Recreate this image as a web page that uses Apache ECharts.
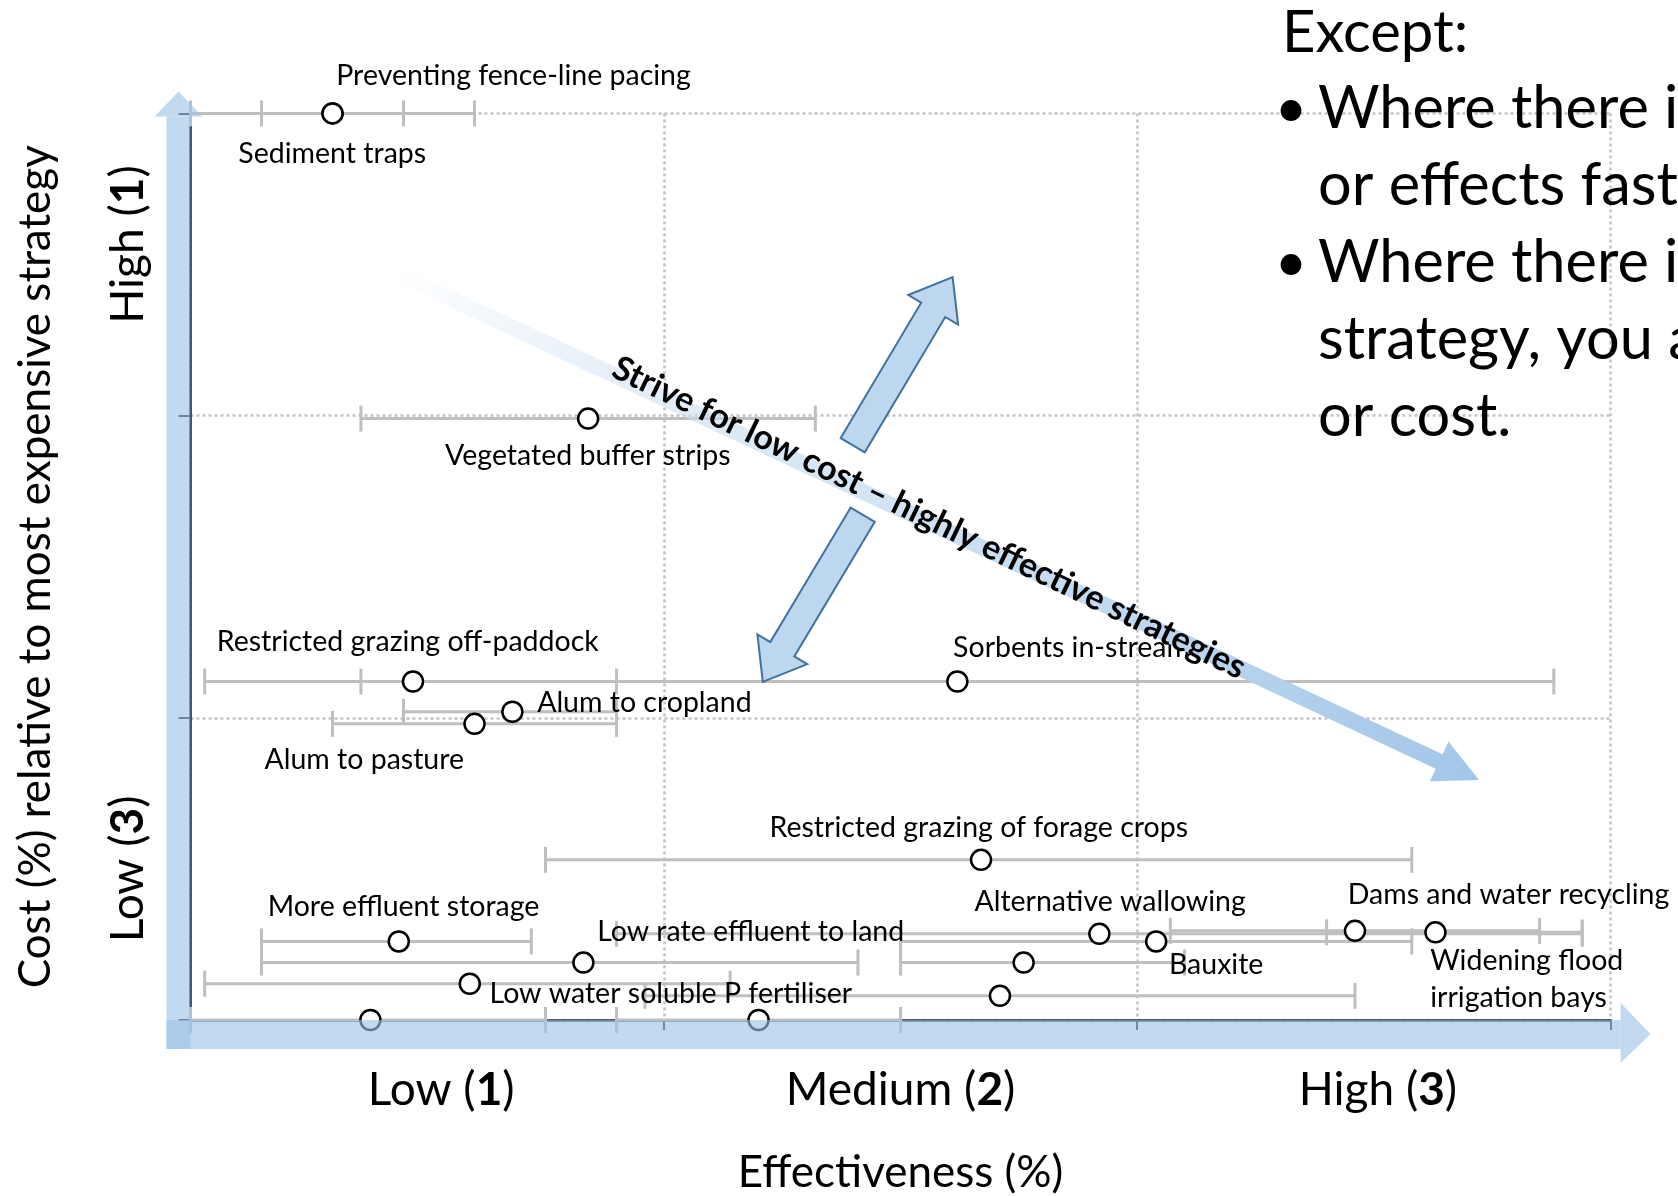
<!DOCTYPE html>
<html>
<head>
<meta charset="utf-8">
<script src="https://cdn.jsdelivr.net/npm/echarts@6/dist/echarts.min.js"></script>
<style>
  html, body { margin: 0; padding: 0; background: #fff; }
  #chart { width: 1678px; height: 1196px; }
</style>
</head>
<body>
<div id="chart"></div>
<script>
// ---------- data (effectiveness / cost in band units: 1 band = 1) ----------
var strategyNames = [
    'Preventing fence-line pacing', 'Sediment traps', 'Vegetated buffer strips',
    'Restricted grazing off-paddock', 'Sorbents in-stream', 'Alum to cropland', 'Alum to pasture',
    'Restricted grazing of forage crops', 'More effluent storage', 'Low rate effluent to land', '',
    'Low water soluble P fertiliser', '', '', '',
    'Alternative wallowing', 'Bauxite', 'Dams and water recycling', 'Widening flood\nirrigation bays'
];
var effectiveness    = [0.30, 0.30, 0.84, 0.47, 1.62, 0.68, 0.60, 1.67, 0.44, 0.83, 1.76, 0.59, 1.71, 0.38, 1.20, 1.92, 2.04, 2.46, 2.63];
var effectivenessMin = [0.00, 0.15, 0.36, 0.03, 0.36, 0.45, 0.30, 0.75, 0.15, 0.15, 1.50, 0.03, 0.96, 0.00, 0.90, 0.90, 1.50, 2.07, 2.40];
var effectivenessMax = [0.60, 0.45, 1.32, 0.90, 2.88, 0.90, 0.90, 2.58, 0.72, 1.41, 2.10, 1.14, 2.46, 0.75, 1.50, 2.94, 2.58, 2.85, 2.94];
var cost             = [3.00, 3.00, 1.99, 1.12, 1.12, 1.02, 0.98, 0.53, 0.26, 0.19, 0.19, 0.12, 0.08, 0.00, 0.00, 0.285, 0.26, 0.295, 0.29];

var effectivenessBands = ['Low', 'Medium', 'High'];
var effectivenessRanks = [1, 2, 3];
var costBands = ['Low', 'Medium', 'High'];   // bottom to top
var costRanks = [3, 2, 1];

var arrowText = 'Strive for low cost \u2013 highly effective strategies';
var exceptTitle = 'Except:';
var exceptLines = ['Where there i', 'or effects fast', 'Where there i', 'strategy, you a', 'or cost.'];
var exceptBullets = [true, false, true, false, false];

// label placement: [dx, dy, align] in px from the point centre
var labelPlacement = {
    'Preventing fence-line pacing': [5, -36, 'left'],
    'Sediment traps': [1, 42, 'center'],
    'Vegetated buffer strips': [1, 38, 'center'],
    'Restricted grazing off-paddock': [-4, -38, 'center'],
    'Sorbents in-stream': [-3, -32, 'left'],
    'Alum to cropland': [26, -8, 'left'],
    'Alum to pasture': [-109, 37, 'center'],
    'Restricted grazing of forage crops': [-1, -31, 'center'],
    'More effluent storage': [6, -33, 'center'],
    'Low rate effluent to land': [15, -30, 'left'],
    'Low water soluble P fertiliser': [21, 11, 'left'],
    'Alternative wallowing': [12, -31, 'center'],
    'Bauxite': [14, 25, 'left'],
    'Dams and water recycling': [-6, -35, 'left'],
    'Widening flood\nirrigation bays': [-4, 48, 'left']
};
// small nudges of the band labels along their axis (px of leading pad)
var xLabelPad = [28, 0, 8];
var yLabelPad = [0, 0, 40];

var FONT = 'Lato';
var grey = '#bfbfbf';
var axisDark = '#1d2733';

(function(){
    var dom = document.getElementById('chart');
    var chart = echarts.init(dom);

    var barData = effectiveness.map(function (v, i) {
        return [effectivenessMin[i], effectivenessMax[i], cost[i]];
    });
    var pointData = effectiveness.map(function (v, i) {
        var name = strategyNames[i];
        var p = labelPlacement[name];
        return {
            name: name,
            value: [v, cost[i]],
            label: p ? {
                show: true,
                position: [10 + p[0], 10 + p[1]],
                align: p[2],
                verticalAlign: 'middle'
            } : { show: false }
        };
    });

    function bandRich() {
        var r = { b: { fontWeight: 'bold', fontSize: 46, fontFamily: FONT, color: '#000' } };
        for (var k = 0; k <= 60; k += 2) r['p' + k] = { width: k, fontSize: 46 };
        return r;
    }
    function padTag(n) { n = Math.round(n / 2) * 2; return n > 0 ? '{p' + n + '| }' : ''; }

    var splitStyle = { type: [3, 3], color: '#c4c4c4', width: 2.5 };

    var option = {
        animation: false,
        textStyle: { fontFamily: FONT },
        grid: { left: 190.5, right: 67.4, top: 113.4, bottom: 176, containLabel: false, outerBoundsMode: 'none' },
        xAxis: [{
            type: 'value', min: 0, max: 3, interval: 1,
            name: 'Effectiveness (%)', nameLocation: 'middle', nameGap: 131,
            nameTextStyle: { fontSize: 44, color: '#000', fontFamily: FONT },
            axisLine: { show: true, onZero: false, lineStyle: { color: axisDark, width: 2.5 } },
            axisTick: { show: true, inside: false, length: 10, lineStyle: { color: axisDark, width: 2 } },
            axisLabel: { show: false },
            splitLine: { show: true, lineStyle: splitStyle }
        }, {
            type: 'category', data: effectivenessBands, position: 'bottom', boundaryGap: true,
            axisLine: { show: false }, axisTick: { show: false }, splitLine: { show: false },
            axisLabel: {
                margin: 47, fontSize: 46, color: '#000', fontFamily: FONT,
                formatter: function (v, i) { return padTag(xLabelPad[i]) + v + ' ({b|' + effectivenessRanks[i] + '})'; },
                rich: bandRich()
            }
        }],
        yAxis: [{
            type: 'value', min: 0, max: 3, interval: 1,
            name: 'Cost (%) relative to most expensive strategy', nameLocation: 'middle', nameGap: 133,
            nameTextStyle: { fontSize: 44, color: '#000', fontFamily: FONT },
            axisLine: { show: true, onZero: false, lineStyle: { color: axisDark, width: 2.5 } },
            axisTick: { show: true, inside: false, length: 12, lineStyle: { color: axisDark, width: 2 } },
            axisLabel: { show: false },
            splitLine: { show: true, lineStyle: splitStyle }
        }, {
            type: 'category', data: costBands, position: 'left', boundaryGap: true,
            axisLine: { show: false }, axisTick: { show: false }, splitLine: { show: false },
            axisLabel: {
                rotate: 90, margin: 39, fontSize: 46, color: '#000', fontFamily: FONT,
                formatter: function (v, i) { return padTag(yLabelPad[i]) + v + ' ({b|' + costRanks[i] + '})'; },
                rich: bandRich()
            }
        }],
        series: [{
            // error bars (min-max effectiveness)
            type: 'custom',
            xAxisIndex: 0, yAxisIndex: 0,
            data: barData,
            encode: { x: [0, 1], y: 2 },
            z: 2,
            renderItem: function (params, api) {
                var y = api.value(2);
                var lo = api.coord([api.value(0), y]);
                var hi = api.coord([api.value(1), y]);
                var cap = 13;
                var st = { stroke: grey, lineWidth: 3 };
                return {
                    type: 'group',
                    children: [
                        { type: 'line', shape: { x1: lo[0], y1: lo[1], x2: hi[0], y2: hi[1] }, style: st },
                        { type: 'line', shape: { x1: lo[0], y1: lo[1] - cap, x2: lo[0], y2: lo[1] + cap }, style: st },
                        { type: 'line', shape: { x1: hi[0], y1: hi[1] - cap, x2: hi[0], y2: hi[1] + cap }, style: st }
                    ]
                };
            }
        }, {
            type: 'scatter',
            xAxisIndex: 0, yAxisIndex: 0,
            data: pointData,
            z: 3,
            symbol: 'circle',
            symbolSize: 20,
            itemStyle: { color: '#fff', borderColor: '#000', borderWidth: 2.5, opacity: 1 },
            label: {
                show: true, formatter: '{b}', fontSize: 28.5, lineHeight: 37,
                color: '#000', fontFamily: FONT
            },
            emphasis: { disabled: true }
        }]
    };
    chart.setOption(option);

    /*********** annotations drawn over the plot ***********/
    function px(p) { return chart.convertToPixel({ seriesIndex: 1 }, p); }

    function arrowShape(a, b, shaftHalf, headHalf, headLen) {
        var dx = b[0] - a[0], dy = b[1] - a[1];
        var len = Math.sqrt(dx * dx + dy * dy);
        var s = len - headLen;
        return {
            x: a[0], y: a[1],
            rotation: -Math.atan2(dy, dx),
            shape: { points: [[0, -shaftHalf], [s, -shaftHalf], [s, -headHalf], [len, 0], [s, headHalf], [s, shaftHalf], [0, shaftHalf]] }
        };
    }

    var o = px([0, 0]), top = px([0, 3]), right = px([3, 0]);
    var band = 'rgba(157,195,230,0.62)';
    var graphics = [];

    // axis arrows (translucent bands)
    graphics.push({ type: 'rect', z: 60, shape: { x: o[0] - 24, y: top[1] + 3, width: 24, height: o[1] + 29 - top[1] - 3 }, style: { fill: band } });
    graphics.push({ type: 'polygon', z: 60, shape: { points: [[o[0] - 36, top[1] + 3], [o[0] + 12, top[1] + 3], [o[0] - 12, top[1] - 22]] }, style: { fill: band } });
    graphics.push({ type: 'rect', z: 60, shape: { x: o[0] - 24, y: o[1], width: right[0] + 10 - o[0] + 24, height: 29 }, style: { fill: band } });
    graphics.push({ type: 'polygon', z: 60, shape: { points: [[right[0] + 10, o[1] - 17], [right[0] + 10, o[1] + 43], [right[0] + 40, o[1] + 14]] }, style: { fill: band } });

    // diagonal gradient arrow
    var big = arrowShape(px([0.434, 2.472]), px([2.722, 0.794]), 8, 22, 44);
    graphics.push({
        type: 'polygon', z: 40, x: big.x, y: big.y, rotation: big.rotation, shape: big.shape,
        style: {
            fill: new echarts.graphic.LinearGradient(0, 0, 1, 0, [
                { offset: 0, color: 'rgba(189,215,238,0)' },
                { offset: 0.45, color: '#d3e4f4' },
                { offset: 1, color: '#a3c6e8' }
            ])
        }
    });
    var tc = px([1.560, 1.662]);
    graphics.push({
        type: 'text', z: 45, x: tc[0], y: tc[1], rotation: big.rotation - 0.012,
        style: { text: arrowText, fontSize: 34, fontWeight: 'bold', fontFamily: FONT, fill: '#000', align: 'center', verticalAlign: 'middle' }
    });

    // block arrows
    var up = arrowShape(px([1.399, 1.902]), px([1.610, 2.458]), 14, 29, 38);
    var down = arrowShape(px([1.420, 1.672]), px([1.209, 1.119]), 14, 29, 38);
    [up, down].forEach(function (a) {
        graphics.push({
            type: 'polygon', z: 42, x: a.x, y: a.y, rotation: a.rotation, shape: a.shape,
            style: { fill: '#bdd7ee', stroke: '#41719c', lineWidth: 2 }
        });
    });

    // "Except:" text block (page text, right edge)
    graphics.push({ type: 'text', z: 45, x: 1282, y: 33, style: { text: exceptTitle, fontSize: 58, fontFamily: FONT, fill: '#000', align: 'left', verticalAlign: 'middle' } });
    exceptLines.forEach(function (t, i) {
        var y = 109 + i * 77;
        if (exceptBullets[i]) {
            graphics.push({ type: 'text', z: 45, x: 1291, y: y, style: { text: '\u2022', fontSize: 56, fontFamily: FONT, fill: '#000', align: 'center', verticalAlign: 'middle' } });
        }
        graphics.push({ type: 'text', z: 45, x: 1318, y: y, style: { text: t, fontSize: 59.5, fontFamily: FONT, fill: '#000', align: 'left', verticalAlign: 'middle' } });
    });

    chart.setOption({ graphic: graphics });
})();
</script>
</body>
</html>
